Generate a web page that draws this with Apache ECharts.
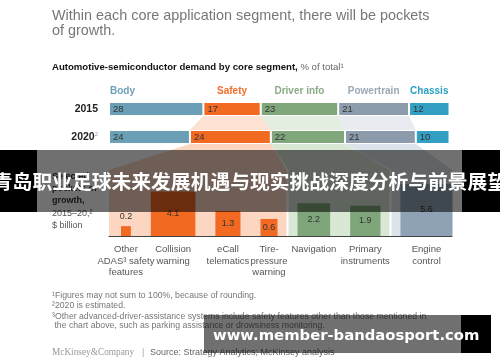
<!DOCTYPE html>
<html>
<head>
<meta charset="utf-8">
<script src="https://cdn.jsdelivr.net/npm/echarts@6.0.0/dist/echarts.min.js"></script>
<style>
html,body{margin:0;padding:0;background:#fff;}
#chart{width:500px;height:362px;}
</style>
</head>
<body>
<div id="chart"></div>
<script>
// ---------------- data ----------------
const segments = ['Body', 'Safety', 'Driver info', 'Powertrain', 'Chassis'];
const years = ['2015', '2020'];
const share2015 = [28, 17, 23, 21, 12];
const share2020 = [24, 24, 22, 21, 10];
const features = ['Other\nADAS³ safety\nfeatures', 'Collision\nwarning', 'eCall\ntelematics', 'Tire-\npressure\nwarning', 'Navigation', 'Primary\ninstruments', 'Engine\ncontrol'];
const featureSegment = ['Safety', 'Safety', 'Safety', 'Safety', 'Driver info', 'Driver info', 'Powertrain'];
const growth = [0.2, 4.1, 1.3, 0.6, 2.2, 1.9, 5.6];
const titleLines = ['Within each core application segment, there will be pockets', 'of growth.'];
const footnotes = [
  '¹Figures may not sum to 100%, because of rounding.',
  '²2020 is estimated.',
  '³Other advanced-driver-assistance systems include safety features other than those mentioned in',
  ' the chart above, such as parking assistance or drowsiness monitoring.'
];
const bannerText = '青岛职业足球未来发展机遇与现实挑战深度分析与前景展望';
const watermarkText = 'www.member-bandaosport.com';

// ---------------- styles ----------------
const FONT = '"Liberation Sans", Arial, Helvetica, sans-serif';
const segColor = ['#6b9fb6', '#f26a22', '#80a77c', '#8c9cac', '#33a0c3'];
const headColor = ['#6fa1b8', '#f36c2b', '#8aab86', '#9aa7b4', '#2b9fc4'];
const connColor = [null, '#fde2d3', '#e3ede0', '#e8ecf0', null];
const panelColor = [null, '#fcd6c1', '#d9e7d5', '#dce3ea', null];
const squareColor = ['#6b9fb6', '#f26a22', '#7fa67b', '#8fa2b5', '#33a0c3'];

const Y_MAX = 3;            // lower panel: sqrt($bn) units, 66 px tall
const PXU = 22;             // px per unit
const X_MAX = 343 / PXU;
const GAP = 20 / PXU, START = 12 / PXU;

const sideU = growth.map(v => Math.sqrt(v));
const leftU = [], rightU = [], centerU = [];
(function () {
  let x = START;
  sideU.forEach(s => { leftU.push(x); rightU.push(x + s); centerU.push(x + s / 2); x += s + GAP; });
})();

const cum = arr => arr.reduce((a, v, i) => { a.push(a[i] + v); return a; }, [0]);

const chart = echarts.init(document.getElementById('chart'));

const topSeries = segments.map((name, k) => ({
  type: 'bar', name, stack: 'share', xAxisIndex: 0, yAxisIndex: 0,
  barWidth: 14,
  data: [share2015[k], share2020[k]],
  itemStyle: { color: segColor[k], borderColor: '#fff', borderWidth: 1 },
  label: { show: true, position: 'insideLeft', distance: 4, color: '#333', fontSize: 9.5, fontFamily: FONT },
  silent: true
}));

const option = {
  animation: false,
  grid: [
    { left: 109, right: 50.5, top: 95, height: 56 },
    { left: 109, right: 48, top: 170, height: 66 }
  ],
  xAxis: [
    { gridIndex: 0, type: 'value', min: 0, max: 101, show: false },
    { gridIndex: 1, type: 'value', min: 0, max: X_MAX,
      axisLine: { show: true, lineStyle: { color: '#444', width: 1 } },
      axisTick: { show: false }, axisLabel: { show: false }, splitLine: { show: false } }
  ],
  yAxis: [
    { gridIndex: 0, type: 'category', data: years, inverse: true,
      axisLine: { show: false }, axisTick: { show: false },
      axisLabel: {
        margin: 11,
        formatter: v => v === '2020' ? '{y|2020}{s|2}' : '{y|' + v + '}',
        rich: {
          y: { fontSize: 10.5, fontWeight: 'bold', color: '#222', fontFamily: FONT },
          s: { fontSize: 6, color: '#999', fontFamily: FONT, padding: [0, 0, 6, 0] }
        }
      } },
    { gridIndex: 1, type: 'value', min: 0, max: Y_MAX, show: false }
  ],
  series: topSeries.concat([{
    type: 'custom', xAxisIndex: 1, yAxisIndex: 1, silent: true, z: 3,
    data: growth.map((v, i) => [centerU[i], sideU[i], v]),
    encode: { x: 0, y: 1 },
    renderItem: (params, api) => {
      const i = params.dataIndex;
      const v = api.value(2);
      const base = api.coord([api.value(0), 0]);
      const sz = api.size([api.value(1), api.value(1)]);
      const w = sz[0], h = sz[1];
      const k = segments.indexOf(featureSegment[i]);
      const inside = h > 14;
      return {
        type: 'group', children: [
          { type: 'rect', shape: { x: base[0] - w / 2, y: base[1] - h, width: w, height: h },
            style: { fill: squareColor[k] } },
          { type: 'text', style: { text: v.toFixed(1), x: base[0], y: inside ? base[1] - h / 2 : base[1] - h - 10,
            align: 'center', verticalAlign: 'middle', textAlign: 'center', textVerticalAlign: 'middle',
            fill: '#333', font: '9px ' + FONT } },
          { type: 'text', style: { text: features[i], x: base[0], y: base[1] + 8,
            align: 'center', verticalAlign: 'top', textAlign: 'center', textVerticalAlign: 'top',
            fill: '#555', font: '9.5px ' + FONT, lineHeight: 11.5 } }
        ]
      };
    }
  }])
};
chart.setOption(option);

// ---------------- derived shapes (from library scales) ----------------
const xTop = v => chart.convertToPixel({ xAxisIndex: 0 }, v);
const xLow = v => chart.convertToPixel({ xAxisIndex: 1 }, v);
const yLow = v => chart.convertToPixel({ yAxisIndex: 1 }, v);
const y15 = chart.convertToPixel({ yAxisIndex: 0 }, 0);
const y20 = chart.convertToPixel({ yAxisIndex: 0 }, 1);
const HB = 7;
const c15 = cum(share2015), c20 = cum(share2020);
const T = yLow(Y_MAX), B = yLow(0);

const g = [];
const txt = (text, x, y, font, fill, extra) => Object.assign({
  type: 'text', z: 5, silent: true,
  style: Object.assign({ text, x, y, font, fill, align: 'left', verticalAlign: 'middle', textAlign: 'left', textVerticalAlign: 'middle' }, extra && extra.style || {})
}, extra && extra.el || {});

[1, 2, 3].forEach(k => {
  const L15 = xTop(c15[k]), R15 = xTop(c15[k + 1]);
  const L20 = xTop(c20[k]), R20 = xTop(c20[k + 1]);
  g.push({ type: 'polygon', z: 0, silent: true,
    shape: { points: [[L15, y15 + HB], [R15, y15 + HB], [R20, y20 - HB], [L20, y20 - HB]] },
    style: { fill: connColor[k] } });
  const idx = featureSegment.map((s, i) => s === segments[k] ? i : -1).filter(i => i >= 0);
  const first = idx[0], last = idx[idx.length - 1];
  const pl = first === 0 ? xLow(0) : xLow((rightU[first - 1] + leftU[first]) / 2) + 1;
  const pr = last === growth.length - 1 ? xLow(X_MAX) : xLow((rightU[last] + leftU[last + 1]) / 2) - 1;
  g.push({ type: 'polygon', z: 0, silent: true,
    shape: { points: [[L20, y20 + HB], [R20, y20 + HB], [pr, T], [pr, B], [pl, B], [pl, T]] },
    style: { fill: panelColor[k] } });
});

// segment headers
segments.forEach((name, k) => {
  if (k === 0) {
    g.push(txt(name, xTop(c15[0]) + 1, y15 - HB - 11, 'bold 10px ' + FONT, headColor[k]));
  } else {
    g.push(txt(name, xTop((c15[k] + c15[k + 1]) / 2), y15 - HB - 11, 'bold 10px ' + FONT, headColor[k],
      { style: { align: 'center', textAlign: 'center' } }));
  }
});

// titles
g.push(txt(titleLines[0], 52, 15.7, '14.4px ' + FONT, '#777'));
g.push(txt(titleLines[1], 52, 31, '14.4px ' + FONT, '#777'));
g.push({ type: 'text', z: 5, silent: true, style: {
  text: '{b|Automotive-semiconductor demand by core segment,} {r|% of total¹}', x: 52, y: 67.5,
  align: 'left', verticalAlign: 'middle', textAlign: 'left', textVerticalAlign: 'middle',
  font: '9.6px ' + FONT,
  rich: {
    b: { fontWeight: 'bold', fontSize: 9.6, fontFamily: FONT, fill: '#111', color: '#111' },
    r: { fontSize: 9.6, fontFamily: FONT, fill: '#666', color: '#666' }
  } } });

// lower-left label
g.push(txt('Selected\npockets of\ngrowth,', 52, 170, 'bold 9px ' + FONT, '#333',
  { style: { verticalAlign: 'top', textVerticalAlign: 'top', lineHeight: 12.4 } }));
g.push(txt('2015–20,²\n$ billion', 52, 207.2, '9px ' + FONT, '#555',
  { style: { verticalAlign: 'top', textVerticalAlign: 'top', lineHeight: 12.4 } }));

// footnotes
const fy = [296, 305.6, 316.5, 326];
footnotes.forEach((f, i) => g.push(txt(f, 52, fy[i], '8.7px ' + FONT, '#777')));
g.push(txt('McKinsey&Company', 52, 352.7, '9.3px "Liberation Serif", "Times New Roman", serif', '#999'));
g.push(txt('|', 142, 352.7, '9px ' + FONT, '#aaa'));
g.push(txt('Source: Strategy Analytics; McKinsey analysis', 150, 352.7, '9px ' + FONT, '#666'));

// overlays
g.push({ type: 'rect', z: 100, silent: true, shape: { x: 37, y: 150, width: 425, height: 62 }, style: { fill: 'rgba(0,0,0,0.56)' } });
g.push({ type: 'rect', z: 100, silent: true, shape: { x: 0, y: 150, width: 37, height: 62 }, style: { fill: '#000' } });
g.push({ type: 'rect', z: 100, silent: true, shape: { x: 462, y: 150, width: 38, height: 62 }, style: { fill: '#000' } });
g.push(txt(bannerText, 250, 181, 'bold 19.8px "Noto Sans CJK SC", sans-serif', '#fff',
  { style: { align: 'center', textAlign: 'center' }, el: { z: 101 } }));

g.push({ type: 'rect', z: 100, silent: true, shape: { x: 204, y: 315, width: 257, height: 38 }, style: { fill: 'rgba(0,0,0,0.56)' } });
g.push({ type: 'rect', z: 100, silent: true, shape: { x: 461, y: 315, width: 30, height: 38 }, style: { fill: '#000' } });
g.push(txt(watermarkText, 213, 336, 'bold 14.8px "DejaVu Sans", sans-serif', '#fff', { el: { z: 101 } }));

chart.setOption({ graphic: g });
</script>
</body>
</html>
